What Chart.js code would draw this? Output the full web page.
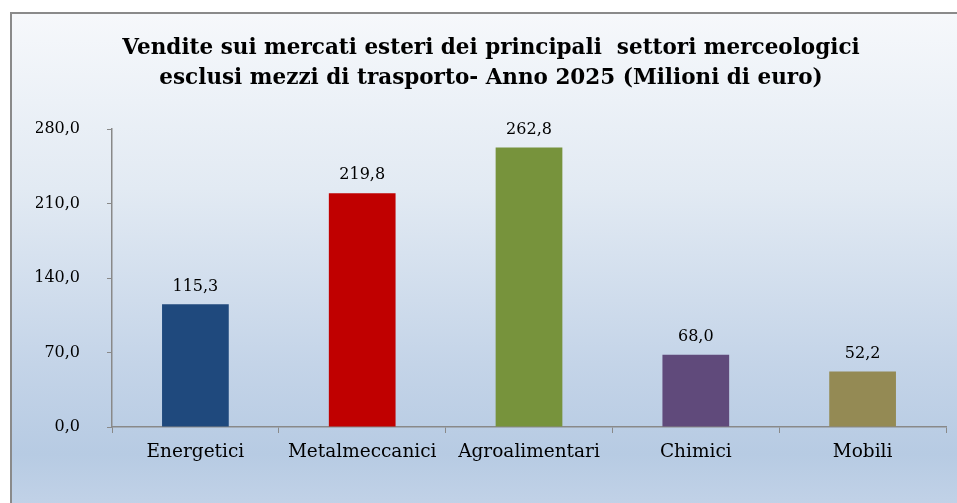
<!DOCTYPE html>
<html>
<head>
<meta charset="utf-8">
<script src="https://cdn.jsdelivr.net/npm/chart.js@4/dist/chart.umd.min.js"></script>
<style>
  html, body { margin: 0; padding: 0; background: #fff; overflow: hidden; }
  #frame {
    position: absolute; left: 10px; top: 12px; width: 960px; height: 500px;
    border: 2px solid #8a8a8a;
    background: linear-gradient(to bottom, #f6f8fb 0%, #e2eaf3 35%, #c4d4e8 70%, #b7cbe3 88%, #c3d3e8 100%);
  }
  #c { position: absolute; left: 0; top: 0; }
</style>
</head>
<body>
<div id="frame"></div>
<canvas id="c" width="957" height="503"></canvas>
<script>
const categories = ['Energetici', 'Metalmeccanici', 'Agroalimentari', 'Chimici', 'Mobili'];
const values = [115.3, 219.8, 262.8, 68.0, 52.2];
const barColors = ['#1f497d', '#c00000', '#77933c', '#604a7b', '#948a54'];
const titleLines = [
    'Vendite sui mercati esteri dei principali  settori merceologici',
    'esclusi mezzi di trasporto- Anno 2025 (Milioni di euro)'
];
const yTicks = { min: 0, max: 280, step: 70 };

const fmt = v => v.toFixed(1).replace('.', ',');
const axisColor = '#898989';

// etichette sopra le barre
const valueLabels = {
    id: 'valueLabels',
    afterDatasetsDraw(chart) {
        const ctx = chart.ctx;
        ctx.save();
        ctx.font = '16px "DejaVu Serif"';
        ctx.fillStyle = '#000';
        ctx.textAlign = 'center';
        ctx.textBaseline = 'bottom';
        chart.getDatasetMeta(0).data.forEach((bar, i) => {
            ctx.fillText(fmt(values[i]), bar.x, bar.y - 10);
        });
        ctx.restore();
    }
};

new Chart(document.getElementById('c'), {
    type: 'bar',
    data: {
        labels: categories,
        datasets: [{
            data: values,
            backgroundColor: barColors,
            barPercentage: 0.4,
            categoryPercentage: 1
        }]
    },
    options: {
        responsive: false,
        animation: false,
        layout: { padding: { left: 36, right: 11, top: 20, bottom: 0 } },
        plugins: {
            legend: { display: false },
            tooltip: { enabled: false },
            title: {
                display: true,
                text: titleLines,
                color: '#000',
                font: { family: 'DejaVu Serif', size: 21.5, weight: 'bold', lineHeight: 1.4 },
                padding: { top: 13, bottom: 36 }
            }
        },
        scales: {
            y: {
                min: yTicks.min,
                max: yTicks.max,
                afterFit: axis => { axis.width = 76; },
                ticks: {
                    stepSize: yTicks.step,
                    callback: v => fmt(v),
                    color: '#000',
                    padding: 27,
                    font: { family: 'DejaVu Serif', size: 16 }
                },
                grid: { drawOnChartArea: false, tickLength: 5, tickColor: axisColor },
                border: { color: axisColor, width: 1.5 }
            },
            x: {
                afterFit: axis => { axis.height = 76; },
                ticks: {
                    color: '#000',
                    padding: 8,
                    font: { family: 'DejaVu Serif', size: 18.5 }
                },
                grid: { drawOnChartArea: false, offset: true, tickLength: 6, tickColor: axisColor },
                border: { color: axisColor, width: 1.5 }
            }
        }
    },
    plugins: [valueLabels]
});
</script>
</body>
</html>
